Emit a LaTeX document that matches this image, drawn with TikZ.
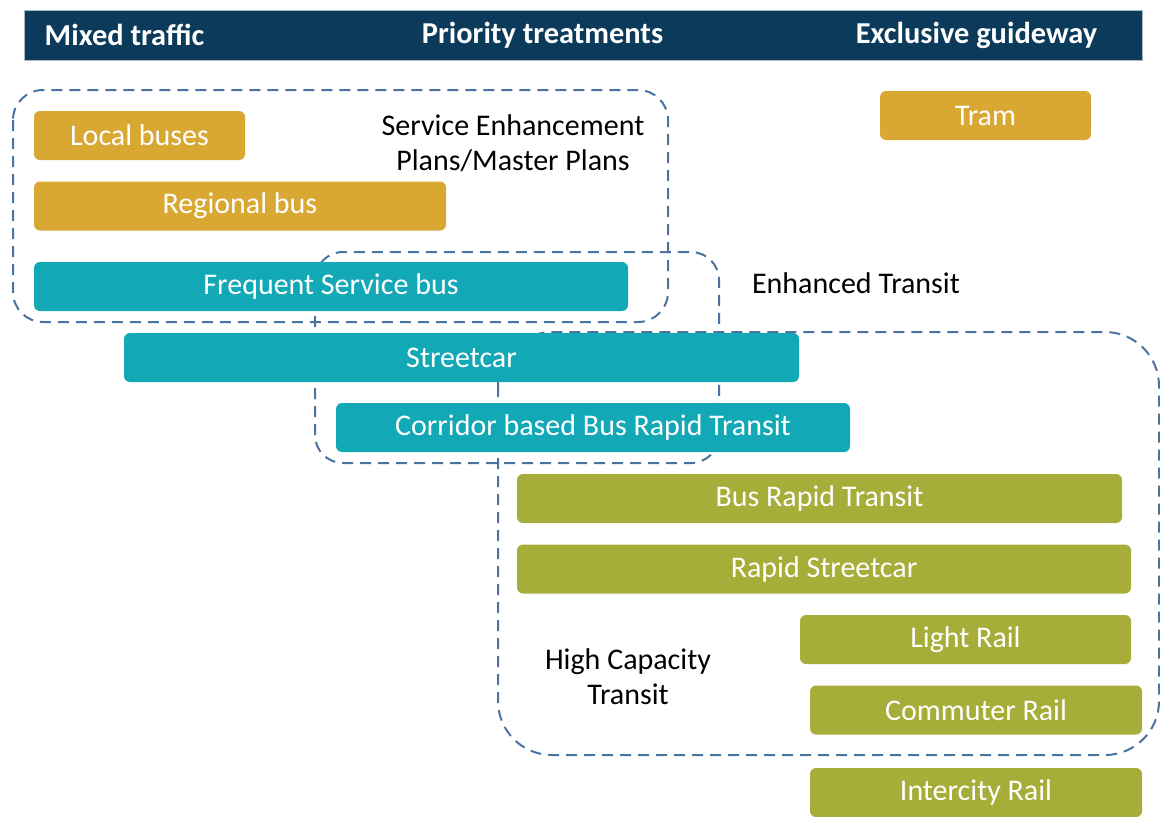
\documentclass[tikz,border=0pt]{standalone}
\usepackage{fontspec}
\setmainfont{Carlito}

\definecolor{headblue}{HTML}{0B3A5A}
\definecolor{busgold}{HTML}{D9A833}
\definecolor{streetteal}{HTML}{13A8B5}
\definecolor{railolive}{HTML}{A6AE39}
\definecolor{zoneblue}{HTML}{4B73A0}

\tikzset{
  modebox/.style={rounded corners=3pt, text=white, inner sep=0pt,
    minimum height=24.5pt, font=\fontsize{15}{17.5}\selectfont},
  goldbox/.style={modebox, fill=busgold},
  tealbox/.style={modebox, fill=streetteal},
  olivebox/.style={modebox, fill=railolive},
  zone/.style={draw=zoneblue, line width=1pt, dash pattern=on 5.5pt off 3.5pt},
  zonelabel/.style={align=center, font=\fontsize{15}{17.5}\selectfont},
  headlabel/.style={text=white, font=\fontsize{15.2}{17.5}\selectfont\bfseries}
}

\begin{document}
\begin{tikzpicture}[x=0.5pt, y=-0.5pt]
        \clip (0,0) rectangle (1160,816);

        % header bar
        \node[fill=headblue, draw=headblue!35, line width=0.4pt, minimum width=559pt, minimum height=25pt, inner sep=0pt] (head) at (583,35) {};
        \node[headlabel] (mixed) at (124.5,35) {Mixed traffic};
        \node[headlabel] (priority) at (542.5,35) {Priority treatments};
        \node[headlabel] (exclusive) at (976.5,35) {Exclusive guideway};

        % dashed groups
        \draw[zone, rounded corners=15pt] (13,90) rectangle (668,322);
        \draw[zone, rounded corners=14pt] (315,252) rectangle (719,463);
        \draw[zone, rounded corners=27pt] (498,332) rectangle (1159,755);

        \node[zonelabel] (sep) at (513,143.5) {Service Enhancement\\Plans/Master Plans};
        \node[zonelabel] (enh) at (856,283) {Enhanced Transit};
        \node[zonelabel] (hct) at (628,676.5) {High Capacity\\Transit};

        % modes
        \node[goldbox, minimum width=105.5pt] (local) at (139.5,135.5) {Local buses};
        \node[goldbox, minimum width=206pt] (regional) at (240,206) {Regional bus};
        \node[goldbox, minimum width=105.5pt] (tram) at (985.5,115.5) {Tram};

        \node[tealbox, minimum width=297pt] (fsb) at (331,286.5) {Frequent Service bus};
        \node[tealbox, minimum width=337.5pt] (streetcar) at (461.5,357.5) {Streetcar};
        \node[tealbox, minimum width=257pt] (corridor) at (593,427.5) {Corridor based Bus Rapid Transit};

        \node[olivebox, minimum width=302.5pt] (brt) at (819.5,498.5) {Bus Rapid Transit};
        \node[olivebox, minimum width=307pt] (rapid) at (824,569) {Rapid Streetcar};
        \node[olivebox, minimum width=165.5pt] (light) at (965.5,639.5) {Light Rail};
        \node[olivebox, minimum width=166pt] (commuter) at (976,710) {Commuter Rail};
        \node[olivebox, minimum width=166pt] (intercity) at (976,792.5) {Intercity Rail};
\end{tikzpicture}
\end{document}
